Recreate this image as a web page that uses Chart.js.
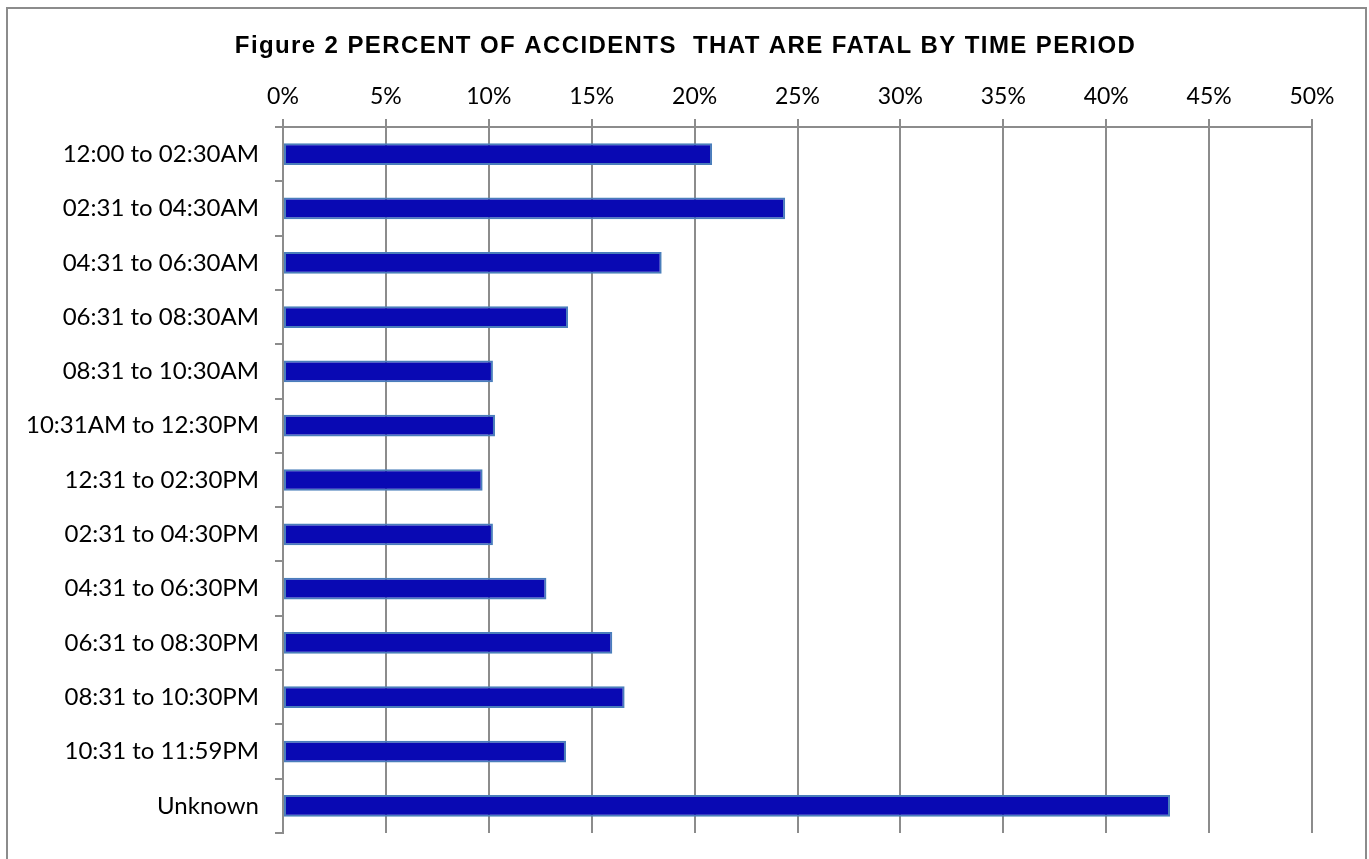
<!DOCTYPE html>
<html>
<head>
<meta charset="utf-8">
<script src="https://cdn.jsdelivr.net/npm/chart.js@4/dist/chart.umd.min.js"></script>
<style>
  html, body { margin: 0; padding: 0; background: #fff; }
  #wrap { position: relative; width: 1369px; height: 859px; overflow: hidden; }
  #frame { position: absolute; left: 6px; top: 7px; width: 1357px; height: 1000px; border: 2px solid #8c8c8c; }
  #chartBox { position: absolute; left: 0; top: 0; width: 1369px; height: 859px; }
</style>
</head>
<body>
<div id="wrap">
  <div id="frame"></div>
  <div id="chartBox"><canvas id="fatalChart"></canvas></div>
</div>
<script>
// Time periods (top to bottom)
const periods = [
    '12:00 to 02:30AM',
    '02:31 to 04:30AM',
    '04:31 to 06:30AM',
    '06:31 to 08:30AM',
    '08:31 to 10:30AM',
    '10:31AM to 12:30PM',
    '12:31 to 02:30PM',
    '02:31 to 04:30PM',
    '04:31 to 06:30PM',
    '06:31 to 08:30PM',
    '08:31 to 10:30PM',
    '10:31 to 11:59PM',
    'Unknown'
];

// Percent of accidents that are fatal
const fatalPercent = [20.85, 24.4, 18.4, 13.85, 10.2, 10.3, 9.7, 10.2, 12.8, 16.0, 16.6, 13.75, 43.1];

// Axis settings
const xMin = 0;
const xMax = 50;
const xStep = 5;

const titleText = 'Figure 2 PERCENT OF ACCIDENTS  THAT ARE FATAL BY TIME PERIOD';

const fontFamily = 'Lato, "Open Sans", sans-serif';

// Title drawn by hand so the letter spacing can be widened a little
const wideTitle = {
    id: 'wideTitle',
    afterDraw(chart) {
        const ctx = chart.ctx;
        ctx.save();
        ctx.font = 'bold 24px "Liberation Sans", Arial, sans-serif';
        ctx.letterSpacing = '1.4px';
        ctx.fillStyle = '#000';
        ctx.textAlign = 'center';
        ctx.textBaseline = 'middle';
        ctx.fillText(titleText, chart.width / 2 + 1, 46);
        ctx.restore();
    }
};

let fatalChart;

function initChart() {
    const ctx = document.getElementById('fatalChart');
    if (!ctx) return;

    fatalChart = new Chart(ctx, {
        type: 'bar',
        data: {
            labels: periods,
            datasets: [{
                data: fatalPercent,
                backgroundColor: '#0909b3',
                borderColor: '#4a7ebb',
                borderWidth: 2,
                borderSkipped: false,
                barPercentage: 0.4,
                categoryPercentage: 1.0
            }]
        },
        options: {
            indexAxis: 'y',
            responsive: true,
            maintainAspectRatio: false,
            animation: false,
            layout: {
                padding: { left: 0, right: 57, top: 69, bottom: 26 }
            },
            plugins: {
                legend: { display: false },
                tooltip: { enabled: false },
                title: { display: false }
            },
            scales: {
                x: {
                    position: 'top',
                    min: xMin,
                    max: xMax,
                    ticks: {
                        stepSize: xStep,
                        color: '#000',
                        padding: 9,
                        font: { family: fontFamily, size: 23 },
                        callback: v => v + '%'
                    },
                    grid: {
                        color: '#8c8c8c',
                        lineWidth: 2,
                        tickLength: 8
                    },
                    border: { color: '#8c8c8c', width: 2 },
                    afterFit: scale => { scale.height = 58; }
                },
                y: {
                    ticks: {
                        color: '#000',
                        padding: 16,
                        font: { family: fontFamily, size: 24 }
                    },
                    grid: {
                        offset: true,
                        drawOnChartArea: false,
                        color: '#8c8c8c',
                        lineWidth: 2,
                        tickLength: 8
                    },
                    border: { color: '#8c8c8c', width: 2 },
                    afterFit: scale => {
                        scale.width = 283;
                        scale.paddingTop = 0;
                        scale.paddingBottom = 0;
                    }
                }
            }
        },
        plugins: [wideTitle]
    });
}

document.addEventListener('DOMContentLoaded', initChart);
</script>
</body>
</html>
